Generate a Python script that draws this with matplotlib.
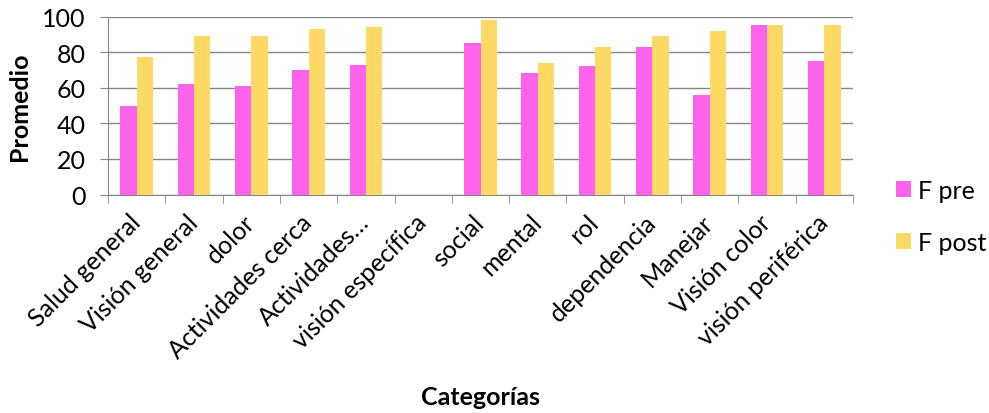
import numpy as np
import matplotlib
matplotlib.use("Agg")
import matplotlib.pyplot as plt

categorias = ["Salud general", "Visión general", "dolor", "Actividades cerca",
              "Actividades…", "visión específica", "social", "mental", "rol",
              "dependencia", "Manejar", "Visión color", "visión periférica"]
f_pre = [50, 62, 61, 70, 73, np.nan, 85, 68, 72, 83, 56, 95, 75]
f_post = [77, 89, 89, 93, 94, np.nan, 98, 74, 83, 89, 92, 95, 95]

plt.rcParams['font.family'] = ['Lato', 'DejaVu Sans']
fs = 18

fig = plt.figure(figsize=(9.89, 4.14), dpi=100)
ax = fig.add_axes([108/989, 1-195.5/414, (853-108)/989, (195.5-17.5)/414])

x = np.arange(len(categorias))
w = 0.285
ax.bar(x - w/2, f_pre, w, color='#FF63EC', label='F pre', zorder=3)
ax.bar(x + w/2, f_post, w, color='#FFD966', label='F post', zorder=3)

ax.set_xlim(-0.5, len(categorias) - 0.5)
ax.set_ylim(0, 100)
ax.set_yticks(range(0, 101, 20))
ax.yaxis.grid(True, color='#868686', linewidth=1, zorder=0)
ax.tick_params(axis='y', length=6, color='#868686', labelsize=fs, pad=10)

ax.set_xticks(x)
ax.set_xticklabels(categorias, rotation=45, ha='right', va='center',
                   rotation_mode='anchor', fontsize=fs)
ax.tick_params(axis='x', which='major', length=0, pad=17)
ax.set_xticks(np.arange(-0.5, len(categorias)), minor=True)
ax.tick_params(axis='x', which='minor', length=6, color='#868686')

for s in ['top', 'right']:
    ax.spines[s].set_visible(False)
for s in ['left', 'bottom']:
    ax.spines[s].set_color('#868686')

ax.set_ylabel('Promedio', fontsize=fs, fontweight='bold')
ax.yaxis.set_label_coords((31 - 108) / 745, 0.5)
fig.text(480/989, 1-398/414, 'Categorías', fontsize=fs, fontweight='bold',
         ha='center', va='center')

fig.legend(loc='upper left', bbox_to_anchor=(896/989, 1-180/414), frameon=False,
           fontsize=fs, handlelength=0.6, handleheight=0.6, labelspacing=1.15,
           handletextpad=0.3, borderpad=0, borderaxespad=0)

fig.savefig('out.png', dpi=100)
